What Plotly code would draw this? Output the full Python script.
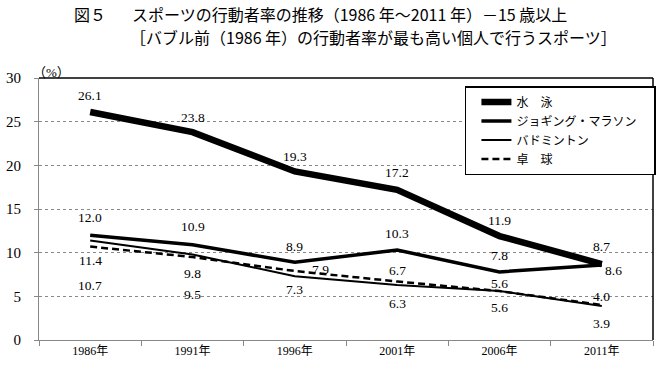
import plotly.graph_objects as go

years = ["1986年", "1991年", "1996年", "2001年", "2006年", "2011年"]
swimming = [26.1, 23.8, 19.3, 17.2, 11.9, 8.7]
jogging = [12.0, 10.9, 8.9, 10.3, 7.8, 8.6]
badminton = [11.4, 9.8, 7.3, 6.3, 5.6, 3.9]
table_tennis = [10.7, 9.5, 7.9, 6.7, 5.6, 4.0]
y_ticks = [0, 5, 10, 15, 20, 25, 30]

series = [
    ("水　泳", swimming, dict(color="black", width=6.5)),
    ("ジョギング・マラソン\u3000", jogging, dict(color="black", width=3.5)),
    ("バドミントン", badminton, dict(color="black", width=2)),
    ("卓　球", table_tennis, dict(color="black", width=2.5, dash="7px,4px")),
]

# label offsets (pixels): (xshift, yshift) per point
label_shifts = [
    [(0, 17), (0, 15), (0, 15), (0, 17), (0, 16), (0, 18)],
    [(0, 18), (0, 18), (0, 16), (0, 17), (0, 16), (12, -6)],
    [(0, -20), (0, -19), (0, -13), (0, -19), (0, -16), (0, -18)],
    [(0, -39), (0, -37), (26, 2), (0, 11), (0, 8), (0, 9)],
]

fig = go.Figure()
for name, vals, line in series:
    fig.add_trace(go.Scatter(x=years, y=vals, mode="lines", name=name, line=line))

num_font = dict(family="Liberation Serif, Noto Sans CJK JP", size=13.5, color="black")
for (name, vals, _), shifts in zip(series, label_shifts):
    for x, v, (dx, dy) in zip(years, vals, shifts):
        fig.add_annotation(x=x, y=v, text=f"{v:.1f}", showarrow=False,
                           xshift=dx, yshift=dy, font=num_font)

# titles
title_font = dict(family="Noto Sans CJK JP", size=16, color="black")
fig.add_annotation(xref="paper", yref="paper", x=(72 - 39) / 617, y=(340 - 14) / 262,
                   xanchor="left", yanchor="middle", showarrow=False,
                   text="図５", font=title_font)
fig.add_annotation(xref="paper", yref="paper", x=(130 - 39) / 617, y=(340 - 14) / 262,
                   xanchor="left", yanchor="middle", showarrow=False,
                   text="スポーツの行動者率の推移（1986 年～2011 年）－15 歳以上",
                   font=title_font)
fig.add_annotation(xref="paper", yref="paper", x=(128 - 39) / 617, y=(340 - 37) / 262,
                   xanchor="left", yanchor="middle", showarrow=False,
                   text="［バブル前（1986 年）の行動者率が最も高い個人で行うスポーツ］",
                   font=title_font)
fig.add_annotation(xref="paper", yref="paper", x=(31 - 39) / 617, y=(340 - 72) / 262,
                   xanchor="left", yanchor="middle", showarrow=False,
                   text="（%）", font=dict(family="Liberation Serif, Noto Sans CJK JP", size=13, color="black"))

# frame top and right (black)
fig.add_shape(type="line", xref="paper", yref="paper", x0=0, x1=1, y0=1, y1=1,
              line=dict(color="black", width=1.5))
fig.add_shape(type="line", xref="paper", yref="paper", x0=1, x1=1, y0=0, y1=1,
              line=dict(color="black", width=1.5))

fig.update_layout(
    width=663, height=370,
    margin=dict(l=39, r=7, t=78, b=30),
    paper_bgcolor="white", plot_bgcolor="white",
    showlegend=True,
    legend=dict(x=(467 - 39) / 617, y=(340 - 86) / 262, xanchor="left", yanchor="top",
                bordercolor="black", borderwidth=1.5, bgcolor="white",
                font=dict(family="Noto Sans CJK JP", size=12, color="black"),
                tracegroupgap=0, itemwidth=30, indentation=10),
    xaxis=dict(type="category", range=[-0.5, 5.5], showgrid=False,
               showline=True, linecolor="#888888", linewidth=1,
               ticks="outside", tickson="boundaries", ticklen=5, tickcolor="#888888",
               tickfont=dict(family="Liberation Serif, Noto Sans CJK JP", size=12, color="black")),
    yaxis=dict(range=[0, 30], tickvals=y_ticks, showgrid=True, gridcolor="#888888",
               griddash="dot", gridwidth=1, zeroline=False,
               showline=True, linecolor="#888888", linewidth=1,
               ticks="outside", ticklen=4, tickcolor="#888888", ticklabelstandoff=10,
               tickfont=dict(family="Liberation Serif", size=15, color="black")),
)

fig.write_html("out.html", config={"displayModeBar": False},
               post_script="document.body.style.margin='0';")
